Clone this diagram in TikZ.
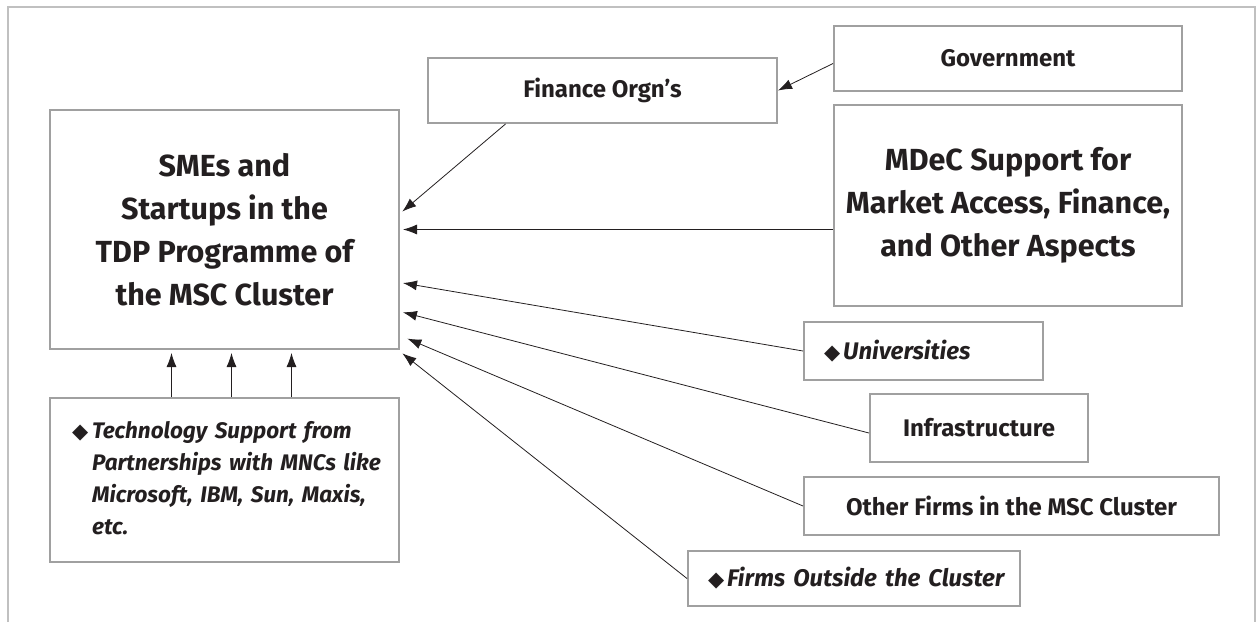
\documentclass[tikz,border=0pt]{standalone}
\usepackage{fontspec}
\setmainfont{Fira Sans}
\newfontfamily\symfont{DejaVu Sans}
\usepackage{tikz}
\usetikzlibrary{arrows.meta,positioning,calc}
\definecolor{boxline}{RGB}{160,160,160}
\definecolor{frameline}{RGB}{192,192,192}
\definecolor{ink}{RGB}{35,31,32}
\newcommand{\bul}{{\symfont\fontsize{21}{21}\selectfont ◆}}

\begin{document}
\begin{tikzpicture}[
    x=1pt, y=-1pt,
    box/.style={draw=boxline, line width=2pt, text=ink, align=center, inner sep=0pt},
    bigtext/.style={font=\fontsize{30.5}{43}\selectfont\bfseries},
    smalltext/.style={font=\fontsize{24}{30}\selectfont\bfseries},
    techtext/.style={font=\fontsize{22.5}{32}\selectfont\bfseries\itshape},
    link/.style={-{Latex[length=14pt,width=10pt]}, line width=0.8pt, draw=ink, shorten >=3pt}
]
\useasboundingbox (0,0) rectangle (1260,622);

% Outer frame
\draw[frameline, line width=2.5pt] (8,622) -- (8,7) -- (1255,7) -- (1255,622);

% Left column
\node[box, bigtext, minimum width=349pt, minimum height=239pt] (sme) at (224.5,229.5)
    {SMEs and\\Startups in the\\TDP Programme of\\the MSC Cluster};
\node[box, techtext, text width=305pt, inner xsep=22pt, minimum height=164pt, align=left] (tech) at (224.5,480)
    {\begin{tabular}{@{}l@{\hspace{4pt}}l@{}}
     \bul & Technology Support from\\
          & Partnerships with MNCs like\\
          & Microsoft, IBM, Sun, Maxis,\\
          & etc.
     \end{tabular}};

% Top row
\node[box, smalltext, minimum width=349pt, minimum height=65pt] (fin) at (602.5,90.5) {Finance Orgn’s};
\node[box, smalltext, minimum width=348pt, minimum height=65pt] (gov) at (1008,58.5) {Government};

% Right column
\node[box, bigtext, minimum width=348pt, minimum height=201pt] (mdec) at (1008,205.5)
    {MDeC Support for\\Market Access, Finance,\\and Other Aspects};
\node[box, smalltext, text width=199pt, inner xsep=20pt, minimum height=58pt, align=left] (univ) at (923.5,351)
    {\mbox{\bul\hspace{3pt}\itshape Universities}};
\node[box, smalltext, minimum width=218pt, minimum height=68pt] (infra) at (979,428) {Infrastructure};
\node[box, smalltext, minimum width=415pt, minimum height=58pt] (other) at (1011.5,506) {Other Firms in the MSC Cluster};
\node[box, smalltext, text width=292pt, inner xsep=20pt, minimum height=55pt, align=left] (outside) at (854,578.5)
    {\mbox{\bul\hspace{3pt}\itshape Firms Outside the Cluster}};

% Connections into the cluster box
\draw[link, shorten >=0pt] ([yshift=-5pt]gov.west) -- (fin.east);
\draw[link] ([xshift=-97pt]fin.south) -- ([yshift=16pt]sme.east);
\draw[link] (sme.east -| mdec.west) -- (sme.east);
\draw[link] (univ.west) -- ([yshift=-53pt]sme.east);
\draw[link] ([yshift=-5pt]infra.west) -- ([yshift=-82pt]sme.east);
\draw[link, shorten >=8pt] (other.west) -- ([yshift=-106pt]sme.east);
\draw[link] (outside.west) -- ([yshift=-122pt]sme.east);

% Technology support arrows
\foreach \dx in {-53,7,67} {
    \draw[link] ([xshift=\dx pt]tech.north) -- ([xshift=\dx pt]sme.south);
}

\end{tikzpicture}
\end{document}
